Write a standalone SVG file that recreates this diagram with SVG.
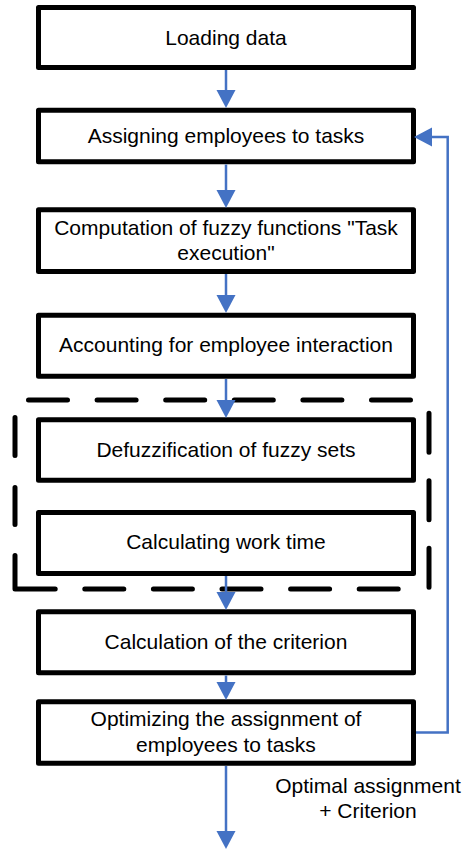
<svg xmlns="http://www.w3.org/2000/svg" width="464" height="850" viewBox="0 0 464 850">
  <defs>
    <style>
      .box { fill: #ffffff; stroke: #000000; stroke-width: 5; stroke-linejoin: round; }
      .lbl { font-family: "Liberation Sans", Arial, sans-serif; font-size: 21px; fill: #000000; text-anchor: middle; }
      .conn { fill: none; stroke: #4472C4; stroke-width: 2.5; }
      .dash { fill: none; stroke: #000000; stroke-width: 5; stroke-linecap: round; stroke-linejoin: round; }
    </style>
    <marker id="arrow" markerUnits="userSpaceOnUse" markerWidth="19" markerHeight="20" refX="8" refY="9.5" orient="auto">
      <path d="M0,0 L18,9.5 L0,19 z" fill="#4472C4"/>
    </marker>
  </defs>
  <rect width="464" height="850" fill="#ffffff"/>

  <g id="group-frame">
    <path class="dash" d="M28.5 400 H411" stroke-dasharray="39 29.6"/>
    <path class="dash" d="M429 413.2 V587.5" stroke-dasharray="39 28.5"/>
    <path class="dash" d="M398.2 589 H15 V417.5" stroke-dasharray="39 29.6 39 29.6 39 29.6 39 29.6 39 29.6 73.7 31 37 32 38 100"/>
  </g>

  <g id="node-loading">
    <rect class="box" x="38.5" y="7.5" width="375" height="60"/>
    <text class="lbl" x="226" y="44.5">Loading data</text>
  </g>
  <g id="node-assigning">
    <rect class="box" x="38.5" y="110.2" width="375" height="51.6"/>
    <text class="lbl" x="226" y="142.7">Assigning employees to tasks</text>
  </g>
  <g id="node-computation">
    <rect class="box" x="38.5" y="209.8" width="375" height="61.7"/>
    <text class="lbl" x="226" y="235">Computation of fuzzy functions "Task</text>
    <text class="lbl" x="226" y="260">execution"</text>
  </g>
  <g id="node-accounting">
    <rect class="box" x="38.5" y="315.2" width="375" height="61"/>
    <text class="lbl" x="226" y="351.7">Accounting for employee interaction</text>
  </g>
  <g id="node-defuzz">
    <rect class="box" x="38.5" y="419.8" width="375" height="60.4"/>
    <text class="lbl" x="226" y="456.7">Defuzzification of fuzzy sets</text>
  </g>
  <g id="node-worktime">
    <rect class="box" x="38.5" y="512.5" width="375" height="61"/>
    <text class="lbl" x="226" y="549.3">Calculating work time</text>
  </g>
  <g id="node-criterion">
    <rect class="box" x="38.5" y="611.8" width="375" height="61"/>
    <text class="lbl" x="226" y="649.3">Calculation of the criterion</text>
  </g>
  <g id="node-optimizing">
    <rect class="box" x="38.5" y="701.8" width="375" height="61.4"/>
    <text class="lbl" x="226" y="726">Optimizing the assignment of</text>
    <text class="lbl" x="226" y="751.7">employees to tasks</text>
  </g>

  <g id="connectors">
    <path class="conn" d="M226 70 V98" marker-end="url(#arrow)"/>
    <path class="conn" d="M226 164.5 V198" marker-end="url(#arrow)"/>
    <path class="conn" d="M226 274 V303" marker-end="url(#arrow)"/>
    <path class="conn" d="M226 379 V408" marker-end="url(#arrow)"/>
    <path class="conn" d="M226 576 V600" marker-end="url(#arrow)"/>
    <path class="conn" d="M226 675.5 V690" marker-end="url(#arrow)"/>
    <path class="conn" d="M226 766 V839" marker-end="url(#arrow)"/>
    <path class="conn" d="M416 732.5 H447.7 V137 H424" marker-end="url(#arrow)"/>
    <text class="lbl" x="368" y="793.3">Optimal assignment</text>
    <text class="lbl" x="368" y="818.3">+ Criterion</text>
  </g>
</svg>
